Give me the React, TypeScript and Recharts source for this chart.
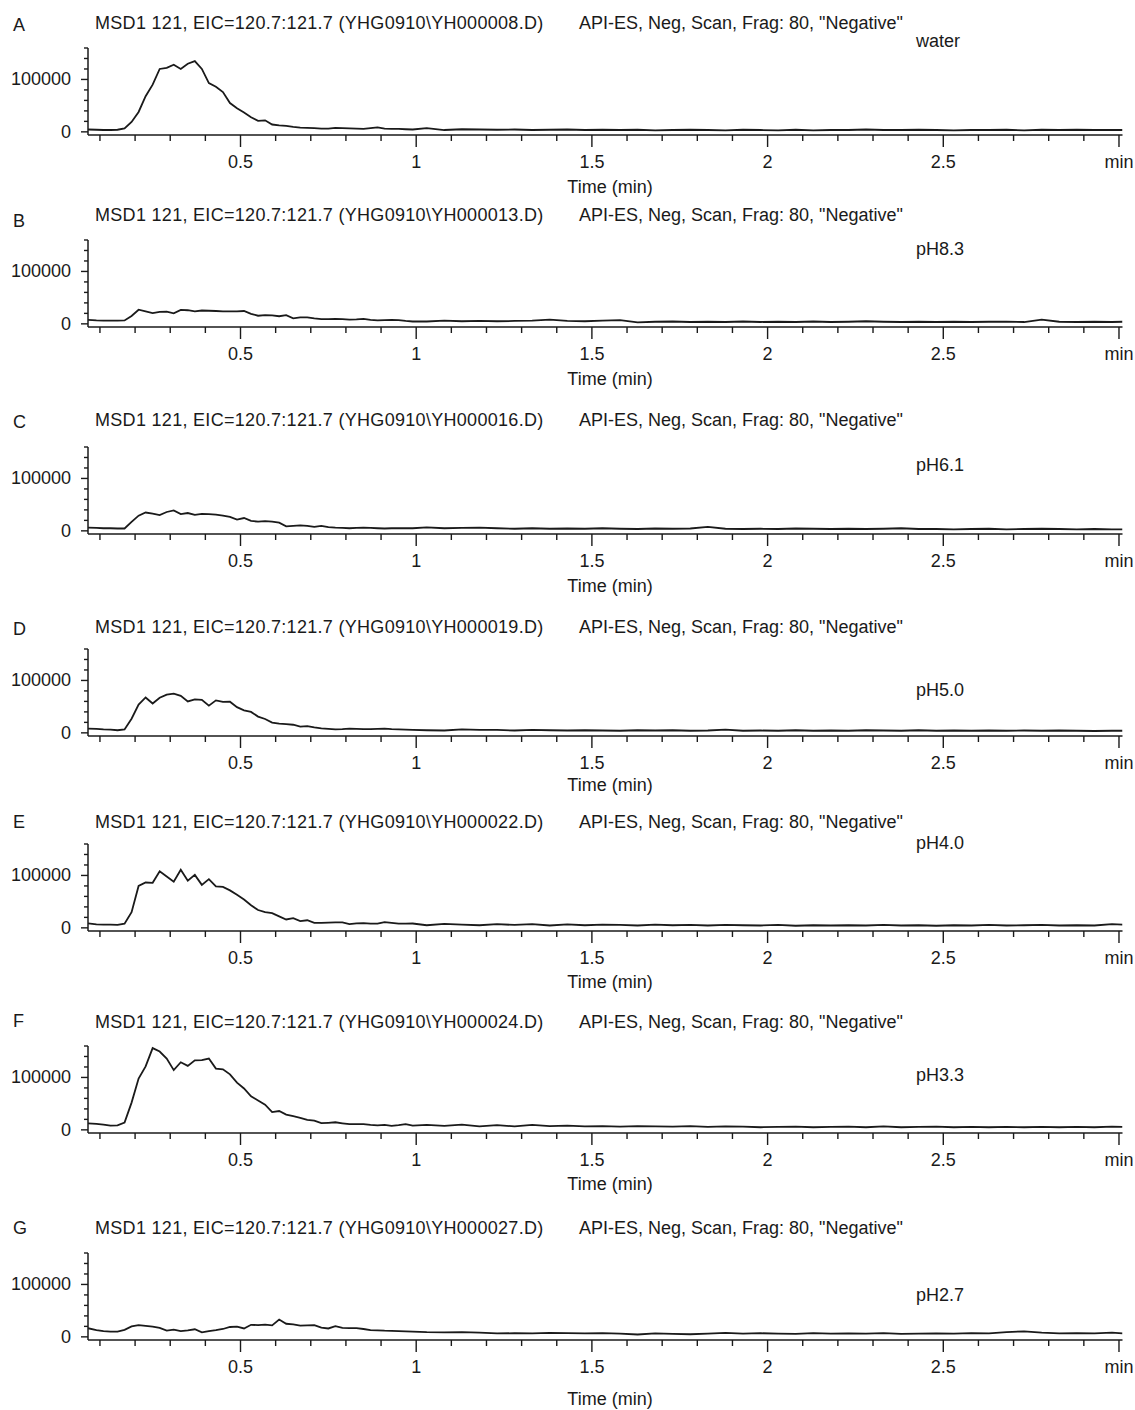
import React from "react";
import { LineChart, Line, XAxis, YAxis } from "recharts";

// retention time grid (min)
const times = [
  0.066, 0.09, 0.11, 0.13, 0.15, 0.17, 0.19, 0.21, 0.23, 0.25, 0.27, 0.29, 0.31, 0.33, 0.35, 0.37,
  0.39, 0.41, 0.43, 0.45, 0.47, 0.49, 0.51, 0.53, 0.55, 0.57, 0.59, 0.61, 0.63, 0.65, 0.67, 0.69,
  0.71, 0.73, 0.75, 0.77, 0.79, 0.81, 0.83, 0.85, 0.87, 0.89, 0.91, 0.93, 0.95, 0.97, 0.99,
  1.03, 1.08, 1.13, 1.18, 1.23, 1.28, 1.33, 1.38, 1.43, 1.48, 1.53, 1.58, 1.63, 1.68, 1.73, 1.78,
  1.83, 1.88, 1.93, 1.98, 2.03, 2.08, 2.13, 2.18, 2.23, 2.28, 2.33, 2.38, 2.43, 2.48, 2.53, 2.58,
  2.63, 2.68, 2.73, 2.78, 2.83, 2.88, 2.93, 2.98, 3.01,
];

const waterEic = [
  4500, 4000, 3500, 3500, 4000, 6500, 19000, 38000, 68000, 90000, 120000, 122000, 128000, 120000, 130000, 135000,
  120000, 93000, 86000, 76000, 55000, 45000, 37000, 28000, 21000, 22000, 14000, 12500, 11500, 9500, 8000, 7500,
  7000, 6000, 6000, 7500, 7000, 6500, 6000, 5500, 7000, 8500, 6000, 5500, 5500, 5000, 4500,
  7000, 3500, 5000, 4500, 4000, 4500, 3500, 4000, 4500, 3500, 4000, 3500, 4000, 3000, 3500, 4000,
  3500, 3000, 4000, 3500, 3000, 4000, 3000, 3500, 3500, 4500, 3500, 3500, 4000, 3500, 3000, 3500,
  3500, 4000, 3000, 4000, 3500, 4000, 3500, 3500, 3500,
];

const ph83Eic = [
  7500, 6500, 6000, 6000, 6000, 6500, 15000, 27000, 24000, 20500, 23000, 23500, 20000, 26500, 26000, 24000,
  25500, 25000, 24500, 24000, 24000, 24000, 24500, 19000, 15500, 16500, 16000, 14500, 16500, 10500, 12500, 12500,
  10500, 9000, 9000, 9500, 9000, 8000, 8500, 9500, 7500, 6500, 7000, 7500, 7000, 5500, 4500,
  4500, 6000, 5000, 5500, 5000, 5500, 6000, 8000, 5500, 5000, 6000, 7000, 3000, 4000, 4500, 3500,
  4000, 3500, 4500, 3500, 4000, 3500, 4500, 3500, 4000, 5000, 4000, 3500, 4000, 3500, 4000, 3500,
  4000, 4000, 3500, 8000, 4000, 3500, 4000, 3500, 4000,
];

const ph61Eic = [
  6000, 5500, 5000, 5000, 4500, 4500, 17000, 29000, 35000, 33000, 30000, 36000, 39000, 32000, 34000, 30500,
  32500, 32000, 31000, 29000, 26500, 21500, 24500, 19000, 17500, 18500, 17500, 15500, 8500, 9500, 10500, 9500,
  7500, 9500, 7000, 6000, 5500, 5000, 5500, 6000, 5500, 5000, 4500, 5000, 5000, 5000, 5000,
  6500, 5000, 5500, 6000, 5000, 4000, 5000, 4000, 4500, 4000, 5000, 4000, 3500, 4500, 4000, 4500,
  7500, 4000, 3500, 4000, 3500, 4500, 4000, 3500, 4000, 3500, 4000, 5000, 3500, 3500, 3000, 3500,
  4000, 3000, 3500, 4000, 3500, 3000, 3500, 3000, 3000,
];

const ph50Eic = [
  8000, 7500, 6500, 6000, 5000, 6500, 27000, 54000, 67500, 56000, 67000, 73000, 75000, 70500, 60000, 64000,
  63000, 52000, 62000, 59000, 59500, 49000, 43000, 40000, 31000, 26500, 19500, 17500, 16500, 15500, 12000, 13000,
  10500, 8500, 7500, 6500, 7000, 8000, 7500, 7000, 7000, 7500, 8000, 7000, 6500, 6000, 5500,
  5000, 4500, 6500, 5500, 5500, 4500, 5500, 5000, 4500, 5000, 4500, 4000, 5000, 4500, 5000, 4000,
  4500, 6000, 4000, 4500, 4000, 5000, 4000, 4500, 4000, 5000, 4500, 4000, 5000, 4000, 4500, 4000,
  4500, 4000, 4500, 4000, 4500, 4000, 3500, 4000, 4000,
];

const ph40Eic = [
  8500, 6500, 6000, 6000, 5700, 8000, 30000, 80000, 86500, 86000, 108000, 98000, 88000, 111000, 90000, 101000,
  82000, 93000, 79000, 78000, 71500, 63000, 54000, 43000, 34000, 30000, 28000, 22000, 16000, 18500, 13000, 14500,
  9500, 9500, 10000, 10500, 10500, 7000, 8500, 9000, 8000, 8000, 11000, 9500, 8000, 8000, 8300,
  5000, 7500, 6000, 5000, 7000, 5500, 7000, 4500, 6500, 5000, 6000, 5500, 4500, 6000, 5000, 5500,
  4500, 5500, 5000, 4500, 5500, 4000, 5000, 4500, 5000, 4500, 5500, 4500, 5000, 4000, 5000, 4500,
  5500, 4500, 5000, 5500, 4500, 5000, 4500, 7000, 6000,
];

const ph33Eic = [
  12500, 11500, 10000, 8000, 8500, 14000, 52000, 98000, 121000, 156000, 149500, 136000, 114000, 129000, 122000, 132500,
  133000, 136000, 117000, 115500, 106000, 90000, 79000, 64000, 56000, 48000, 34000, 36000, 29000, 26000, 23000, 19000,
  17500, 12700, 13500, 14500, 12500, 10800, 11000, 11000, 9500, 8500, 9500, 7500, 9000, 11000, 8000,
  9500, 7500, 10000, 6500, 9000, 6500, 9500, 7000, 8000, 6500, 7000, 6000, 7000, 6500, 6000, 7000,
  5500, 6500, 6000, 5000, 5500, 6000, 5000, 5500, 6000, 5000, 6500, 5000, 5500, 6000, 5000, 5500,
  5000, 5500, 5000, 5500, 5000, 5500, 5000, 6000, 5500,
];

const ph27Eic = [
  16500, 13000, 11000, 10000, 10000, 13500, 20000, 22500, 21000, 19500, 17000, 12000, 13700, 11000, 12500, 14500,
  8500, 11000, 12800, 15000, 18800, 19600, 16000, 23000, 22500, 23500, 22000, 33000, 25000, 24000, 21500, 22000,
  22500, 17500, 16000, 20500, 17000, 16800, 16500, 15000, 13000, 12500, 11800, 11500, 11100, 10500, 10000,
  9000, 8500, 9000, 8000, 6500, 7000, 6500, 7500, 7000, 6500, 7000, 6000, 4500, 6500, 5500, 5000,
  6000, 7500, 6000, 7000, 6000, 5500, 7000, 6000, 6500, 6000, 7000, 5500, 6000, 6500, 6000, 7000,
  6500, 9000, 10500, 8000, 6500, 7000, 6500, 8000, 6500,
];

const panelSeries = [waterEic, ph83Eic, ph61Eic, ph50Eic, ph40Eic, ph33Eic, ph27Eic];
const panelLetters = ["A", "B", "C", "D", "E", "F", "G"];
const dataFiles = ["YH000008.D", "YH000013.D", "YH000016.D", "YH000019.D", "YH000022.D", "YH000024.D", "YH000027.D"];
const sampleTags = ["water", "pH8.3", "pH6.1", "pH5.0", "pH4.0", "pH3.3", "pH2.7"];

const xTicks = [
  0.1, 0.2, 0.3, 0.4, 0.5, 0.6, 0.7, 0.8, 0.9, 1, 1.1, 1.2, 1.3, 1.4, 1.5, 1.6, 1.7, 1.8, 1.9, 2,
  2.1, 2.2, 2.3, 2.4, 2.5, 2.6, 2.7, 2.8, 2.9, 3,
];
const xMajorTicks = [0.5, 1, 1.5, 2, 2.5, 3];
const xMajorLabels = ["0.5", "1", "1.5", "2", "2.5", "min"];
const yTicks = [0, 20000, 40000, 60000, 80000, 100000, 120000, 140000, 160000];
const yMajorTicks = [0, 100000];
const yMajorLabels = ["0", "100000"];

// page layout (px): zero line, title, letter, "Time (min)" and tag positions per panel
const layout = [
  { zero: 132, title: 23, letter: 25, time: 187, tag: 41 },
  { zero: 324, title: 215, letter: 221, time: 379, tag: 249 },
  { zero: 531, title: 420, letter: 422, time: 586, tag: 465 },
  { zero: 733, title: 627, letter: 629, time: 785, tag: 690 },
  { zero: 928, title: 822, letter: 822, time: 982, tag: 843 },
  { zero: 1130, title: 1022, letter: 1021, time: 1184, tag: 1075 },
  { zero: 1337, title: 1228, letter: 1228, time: 1399, tag: 1295 },
];

const INK = "#1a1a1a";
const FONT = '"Liberation Sans", Arial, Helvetica, sans-serif';
const FS = 18;
const PLOT_H = 87;
const MARGIN_TOP = 8;
const Y_DOMAIN: [number, number] = [-6000, 160000];
const ZERO_FROM_TOP = (PLOT_H * Y_DOMAIN[1]) / (Y_DOMAIN[1] - Y_DOMAIN[0]);

const XTick = (props: any) => {
  const { x, y, payload } = props;
  const idx = xMajorTicks.indexOf(payload.value);
  const major = idx >= 0;
  return (
    <g>
      <line x1={x} y1={y} x2={x} y2={y + (major ? 12 : 6)} stroke={INK} strokeWidth={1.4} />
      {major && (
        <text x={x} y={y + 27} textAnchor="middle" dominantBaseline="central" fontFamily={FONT} fontSize={FS} fill={INK}>
          {xMajorLabels[idx]}
        </text>
      )}
    </g>
  );
};

const YTick = (props: any) => {
  const { x, y, payload } = props;
  const idx = yMajorTicks.indexOf(payload.value);
  const major = idx >= 0;
  return (
    <g>
      <line x1={x} y1={y} x2={x - (major ? 7 : 4)} y2={y} stroke={INK} strokeWidth={1.4} />
      {major && (
        <text x={x - 17} y={y} textAnchor="end" dominantBaseline="central" fontFamily={FONT} fontSize={FS} fill={INK}>
          {yMajorLabels[idx]}
        </text>
      )}
    </g>
  );
};

const Txt = ({ x, y, children, center, spacing }: { x: number; y: number; children: React.ReactNode; center?: boolean; spacing?: number }) => (
  <div
    style={{
      position: "absolute",
      left: x,
      top: y - 11,
      lineHeight: "22px",
      fontSize: FS,
      fontFamily: FONT,
      color: INK,
      whiteSpace: "pre",
      letterSpacing: spacing,
      transform: center ? "translateX(-50%)" : undefined,
    }}
  >
    {children}
  </div>
);

function Panel({ i }: { i: number }) {
  const L = layout[i];
  const series = panelSeries[i];
  const rows = times.map((t, k) => ({ t, v: series[k] }));
  return (
    <>
      <Txt x={13} y={L.letter}>{panelLetters[i]}</Txt>
      <Txt x={95} y={L.title} spacing={0.3}>{"MSD1 121, EIC=120.7:121.7 (YHG0910\\" + dataFiles[i] + ")"}</Txt>
      <Txt x={579} y={L.title}>{'API-ES, Neg, Scan, Frag: 80, "Negative"'}</Txt>
      <Txt x={916} y={L.tag}>{sampleTags[i]}</Txt>
      <Txt x={610} y={L.time} center>Time (min)</Txt>
      <div style={{ position: "absolute", left: 0, top: L.zero - ZERO_FROM_TOP - MARGIN_TOP }}>
        <LineChart width={1135} height={MARGIN_TOP + PLOT_H + 50} data={rows} margin={{ top: MARGIN_TOP, right: 12.5, bottom: 0, left: 0 }}>
          <XAxis
            dataKey="t"
            type="number"
            domain={[0.066, 3.01]}
            allowDataOverflow
            ticks={xTicks}
            interval={0}
            height={50}
            tickSize={0}
            tickMargin={0}
            tickLine={false}
            axisLine={{ stroke: INK, strokeWidth: 1.5 }}
            tick={(p: any) => <XTick {...p} />}
          />
          <YAxis
            type="number"
            domain={Y_DOMAIN}
            allowDataOverflow
            ticks={yTicks}
            interval={0}
            width={88}
            tickSize={0}
            tickMargin={0}
            tickLine={false}
            axisLine={{ stroke: INK, strokeWidth: 1.5 }}
            tick={(p: any) => <YTick {...p} />}
          />
          <Line type="linear" dataKey="v" stroke={INK} strokeWidth={1.8} dot={false} isAnimationActive={false} />
        </LineChart>
      </div>
    </>
  );
}

export default function App() {
  return (
    <div style={{ position: "absolute", left: 0, top: 0, width: 1135, height: 1410, background: "#fff", overflow: "hidden" }}>
      {panelLetters.map((_, i) => (
        <Panel key={i} i={i} />
      ))}
    </div>
  );
}
